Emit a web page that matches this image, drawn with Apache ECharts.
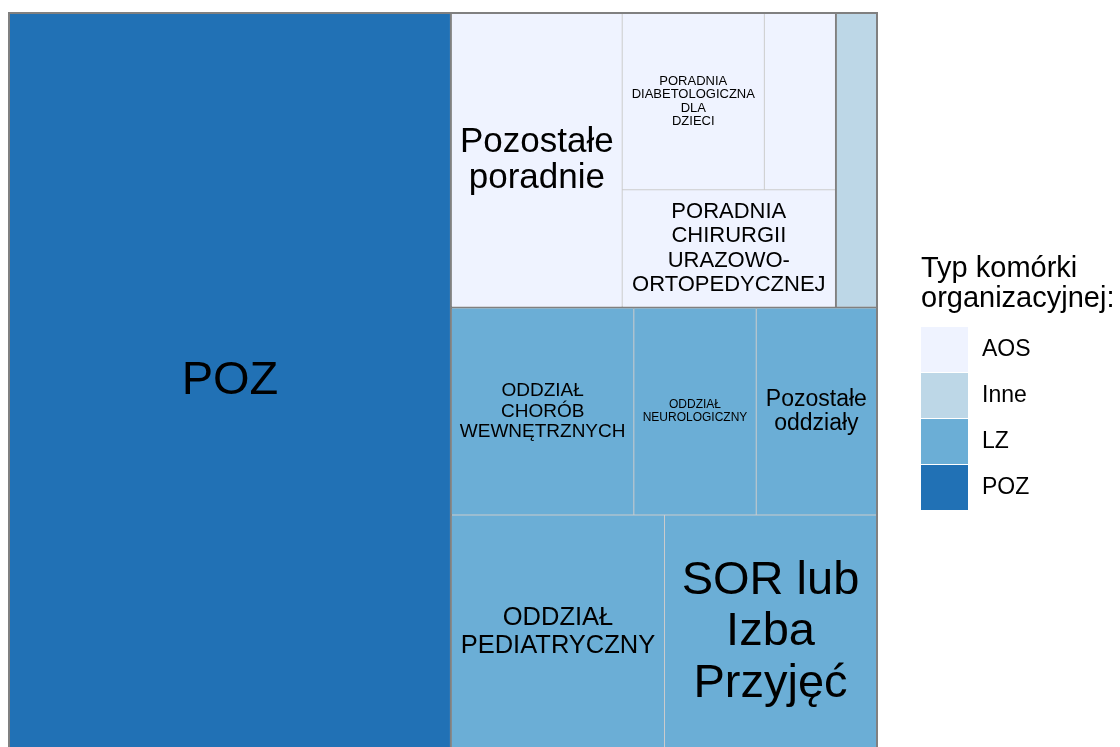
<!DOCTYPE html>
<html>
<head>
<meta charset="utf-8">
<script src="https://cdn.jsdelivr.net/npm/echarts@6/dist/echarts.min.js"></script>
<style>
html, body { margin: 0; padding: 0; background: #fff; }
#main { width: 1120px; height: 747px; }
</style>
</head>
<body>
<div id="main"></div>
<script>
var myChart = echarts.init(document.getElementById('main'));

// typy komórek (kolejnosc jak w legendzie)
var types = ['AOS', 'Inne', 'LZ', 'POZ'];
var typeColors = ['#eff3ff', '#bdd7e7', '#6baed6', '#2171b5'];

// komórki organizacyjne i wartosci
// (kolejnosc = kolejnosc ukladania kafelkow)
var pozNames = ['POZ'];
var pozValues = [5092];

var aosNames = ['Pozostałe\nporadnie', 'PORADNIA\nDIABETOLOGICZNA\nDLA\nDZIECI', '', 'PORADNIA\nCHIRURGII\nURAZOWO-\nORTOPEDYCZNEJ'];
var aosValues = [788, 394, 197, 393];

var inneNames = [''];
var inneValues = [189];

var lzNames = ['ODDZIAŁ\nCHORÓB\nWEWNĘTRZNYCH', 'ODDZIAŁ\nNEUROLOGICZNY', 'Pozostałe\noddziały', 'ODDZIAŁ\nPEDIATRYCZNY', 'SOR lub\nIzba\nPrzyjęć'];
var lzValues = [593, 398, 391, 785, 781];

// rozmiary etykiet [fontSize, lineHeight] (styl, null = bez etykiety)
var pozFont = [[47, 52]];
var aosFont = [[35, 36], [13, 13.5], null, [22, 24.5]];
var inneFont = [null];
var lzFont = [[19, 20.5], [12, 13.3], [23, 23.5], [25.5, 27.5], [47, 51.5]];

var groupLine = '#808080';
var tileLine = '#cccccc';

function leaf(name, value, color, font) {
    return {
        name: name,
        value: value,
        itemStyle: { color: color, borderWidth: 0, gapWidth: 0 },
        label: font ? { show: true, fontSize: font[0], lineHeight: font[1] } : { show: false }
    };
}

function leaves(names, values, color, fonts) {
    var arr = [];
    for (var i = 0; i < names.length; i++) {
        arr.push(leaf(names[i], values[i], color, fonts[i]));
    }
    return arr;
}

function group(name, children, color, lineColor, gap) {
    return {
        name: name,
        children: children,
        itemStyle: { color: color, borderColor: lineColor, borderWidth: 0, gapWidth: gap }
    };
}

var treeData = [
    leaf(pozNames[0], pozValues[0], typeColors[3], pozFont[0]),
    // AOS i Inne leza w jednym pasie nad LZ
    group('', [
        group('AOS', leaves(aosNames, aosValues, typeColors[0], aosFont), typeColors[0], tileLine, 1),
        leaf(inneNames[0], inneValues[0], typeColors[1], inneFont[0])
    ], typeColors[1], groupLine, 2),
    group('LZ', leaves(lzNames, lzValues, typeColors[2], lzFont), typeColors[2], tileLine, 1)
];

// legenda
var legendX = 921;
var keyTop = 327;
var keyStep = 46;
var graphics = [
    { type: 'text', x: legendX, y: 268.6, style: { text: 'Typ komórki', fontSize: 29, fontFamily: 'Liberation Sans', fill: '#000', verticalAlign: 'middle' } },
    { type: 'text', x: legendX, y: 298.6, style: { text: 'organizacyjnej:', fontSize: 29, fontFamily: 'Liberation Sans', fill: '#000', verticalAlign: 'middle' } }
];
for (var i = 0; i < types.length; i++) {
    graphics.push({
        type: 'rect',
        shape: { x: legendX, y: keyTop + i * keyStep, width: 47, height: keyStep - 1 },
        style: { fill: typeColors[i] }
    });
    graphics.push({
        type: 'text',
        x: 982,
        y: keyTop + i * keyStep + (keyStep - 1) / 2,
        style: { text: types[i], fontSize: 23, fontFamily: 'Liberation Sans', fill: '#000', verticalAlign: 'middle' }
    });
}

var option = {
    backgroundColor: '#fff',
    animation: false,
    graphic: graphics,
    series: [{
        type: 'treemap',
        left: 8,
        top: 12,
        width: 870,
        height: 739,
        roam: false,
        nodeClick: false,
        silent: true,
        sort: false,
        squareRatio: 1.2,
        visibleMin: 0,
        breadcrumb: { show: false },
        label: {
            show: true,
            position: 'inside',
            color: '#000',
            fontFamily: 'Liberation Sans',
            overflow: 'none',
            padding: 0,
            align: 'center',
            verticalAlign: 'middle'
        },
        upperLabel: { show: false },
        itemStyle: { borderColor: tileLine, borderWidth: 0, gapWidth: 0 },
        levels: [
            { itemStyle: { borderColor: groupLine, borderWidth: 2, gapWidth: 2 } }
        ],
        data: treeData
    }]
};

myChart.setOption(option);
</script>
</body>
</html>
